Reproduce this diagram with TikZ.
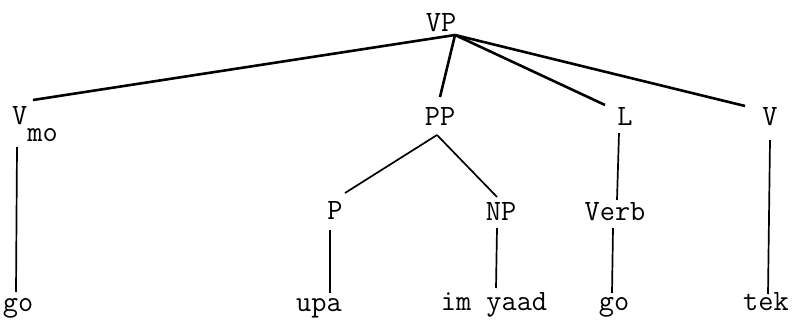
\documentclass[tikz,border=0pt]{standalone}
\usepackage{fontspec}
\begin{document}
\begin{tikzpicture}[
			x=1pt,y=-1pt,
			every node/.style={inner sep=0pt,anchor=base,font=\ttfamily\fontsize{29.5}{30}\selectfont},
			topbranch/.style={line width=2.6pt},
			branch/.style={line width=1.7pt}
		]
		\useasboundingbox (0,0) rectangle (794,320);
		\node (vp) at (441,32) {VP};
		\node[anchor=base west] (vmo) at (12,125) {V\raisebox{-17pt}{mo}};
		\node (pp) at (440,126) {PP};
		\node (l) at (625,126) {L};
		\node (v) at (770,126) {V};
		\node (p) at (335,220) {P};
		\node (np) at (501,221) {NP};
		\node (verb) at (615,221) {Verb};
		\node (go1) at (18,311) {go};
		\node (upa) at (319,311) {upa};
		\node (imyaad) at (494,310) {im yaad};
		\node (go2) at (614,310) {go};
		\node (tek) at (766,310) {tek};
		\draw[topbranch] ([shift={(14,3)}]vp.base) -- ([shift={(21,-25)}]vmo.base west);
		\draw[topbranch] ([shift={(14,3)}]vp.base) -- ([shift={(0,-29)}]pp.base);
		\draw[topbranch] ([shift={(14,3)}]vp.base) -- ([shift={(-20,-21)}]l.base);
		\draw[topbranch] ([shift={(14,3)}]vp.base) -- ([shift={(-25,-20)}]v.base);
		\draw[branch] ([shift={(5,22)}]vmo.base west) -- ([shift={(-2,-19)}]go1.base);
		\draw[branch] ([shift={(-3,9)}]pp.base) -- ([shift={(10,-27)}]p.base);
		\draw[branch] ([shift={(-3,9)}]pp.base) -- ([shift={(-4,-24)}]np.base);
		\draw[branch] ([shift={(-5,10)}]p.base) -- ([shift={(11,-18)}]upa.base);
		\draw[branch] ([shift={(-4,7)}]np.base) -- ([shift={(2,-22)}]imyaad.base);
		\draw[branch] ([shift={(-6,7)}]l.base) -- ([shift={(2,-21)}]verb.base);
		\draw[branch] ([shift={(-2,7)}]verb.base) -- ([shift={(-2,-17)}]go2.base);
		\draw[branch] ([shift={(0,14)}]v.base) -- ([shift={(2,-16)}]tek.base);
	\end{tikzpicture}
\end{document}
